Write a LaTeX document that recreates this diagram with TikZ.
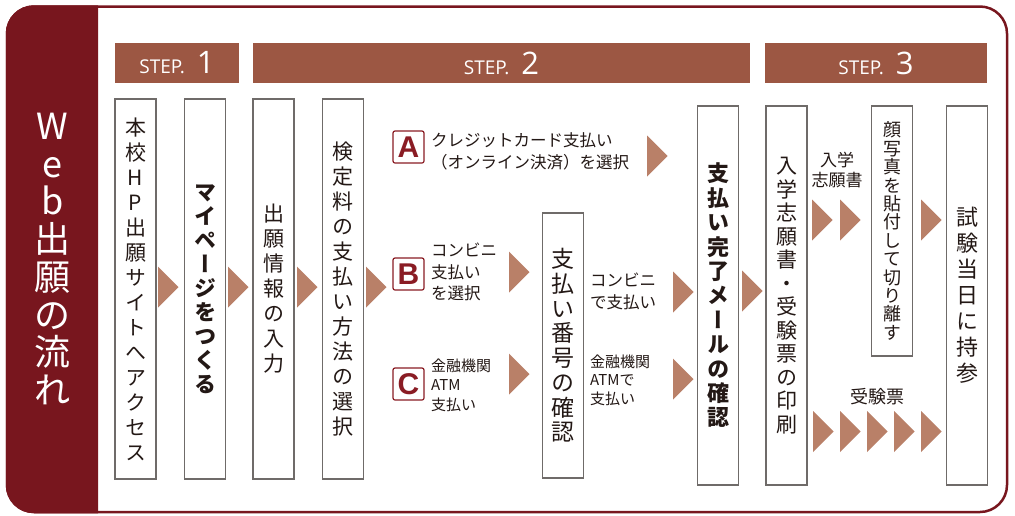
\documentclass[tikz,border=0pt]{standalone}
\usepackage{fontspec}
\setmainfont{Open Sans}
\newfontfamily\jpfont{Noto Sans CJK JP}
\newfontfamily\tatefont[RawFeature=+vert]{Noto Sans CJK JP}
\newfontfamily\markfont{Liberation Sans}

\definecolor{framered}{HTML}{78161E}
\definecolor{stepbrown}{HTML}{9C5743}
\definecolor{arrowtan}{HTML}{B98068}
\definecolor{boxgray}{HTML}{6F6B69}
\definecolor{markred}{HTML}{8A1C24}
\definecolor{inkblack}{HTML}{231815}

\makeatletter
\newcommand\tate[2]{\vbox{\baselineskip=#1pt\lineskiplimit=-\maxdimen\lineskip=0pt
  \@tfor\tate@c:=#2\do{\hbox to 1.3em{\hss\tate@c\hss}}}}
\makeatother

\newcommand\steplabel[1]{{\fontsize{19}{19}\selectfont STEP.}\hspace{12pt}{\fontsize{31}{31}\selectfont #1}}
\newcommand\tri[2]{\fill[arrowtan] (#1,#2-20.5) -- (#1+20.5,#2) -- (#1,#2+20.5) -- cycle;}

\tikzset{
  stepbar/.style={fill=stepbrown, text=white, minimum height=40, inner sep=0},
  flowbox/.style={draw=boxgray, line width=1.1, fill=white, minimum width=41, inner sep=0, text=inkblack},
  markbox/.style={draw=markred, line width=1.2, rounded corners=2, fill=white, minimum width=31, minimum height=32,
    inner sep=0, text=markred, font=\markfont\bfseries\fontsize{30}{30}\selectfont},
  note/.style={inner sep=0, text=inkblack, align=left}
}

\begin{document}
\begin{tikzpicture}[x=1pt,y=-1pt]
  \useasboundingbox (0,0) rectangle (1015,515);

  \draw[framered, line width=2.5, fill=white, rounded corners=27] (7,6.5) rectangle (1007,512);
  \begin{scope}
    \clip (0,0) rectangle (98,515);
    \filldraw[framered, line width=2.5, rounded corners=27] (7,6.5) rectangle (1007,512);
  \end{scope}
  \node[text=white, inner sep=0, font=\jpfont\fontsize{36}{36}\selectfont] (title) at (52.5,259)
    {\tate{37.7}{Web出願の流れ}};

  \node[stepbar, minimum width=124] (s1) at (177,63) {\steplabel{1}};
  \node[stepbar, minimum width=497] (s2) at (501.5,63) {\steplabel{2}};
  \node[stepbar, minimum width=222] (s3) at (876,63) {\steplabel{3}};

  \node[flowbox, minimum height=380, font=\tatefont\fontsize{21}{21}\selectfont] (hp) at (135.5,289)
    {\tate{25}{本校HP出願サイトへアクセス}};
  \node[flowbox, minimum height=380, font=\tatefont\bfseries\fontsize{22}{22}\selectfont] (mypage) at (205,289)
    {\tate{24}{マイページをつくる}};
  \node[flowbox, minimum height=380, font=\tatefont\fontsize{21}{21}\selectfont] (entry) at (273.5,289)
    {\tate{25}{出願情報の入力}};
  \node[flowbox, minimum height=380, font=\tatefont\fontsize{21}{21}\selectfont] (method) at (343,289)
    {\tate{25}{検定料の支払い方法の選択}};
  \node[flowbox, minimum height=265, font=\tatefont\fontsize{23}{23}\selectfont] (number) at (563,345.5)
    {\tate{24.7}{支払い番号の確認}};
  \node[flowbox, minimum height=379, font=\tatefont\bfseries\fontsize{22}{22}\selectfont] (mail) at (718,295.5)
    {\tate{24.4}{支払い完了メールの確認}};
  \node[flowbox, minimum height=379, font=\tatefont\fontsize{21}{21}\selectfont] (print) at (786.5,295.5)
    {\tate{23.5}{入学志願書・受験票の印刷}};
  \node[flowbox, minimum height=250, font=\tatefont\fontsize{18}{18}\selectfont] (photo) at (892,231)
    {\tate{18.4}{顔写真を貼付して切り離す}};
  \node[flowbox, minimum height=379, font=\tatefont\fontsize{22}{22}\selectfont] (exam) at (967,295.5)
    {\tate{26}{試験当日に持参}};

  \node[markbox] (ma) at (408.5,147) {A};
  \node[markbox] (mb) at (408.5,274) {B};
  \node[markbox] (mc) at (408.5,384) {C};
  \node[note, anchor=west, font=\jpfont\fontsize{16.5}{22}\selectfont] (ta) at (431,151)
    {クレジットカード支払い\\（オンライン決済）を選択};
  \node[note, anchor=west, font=\jpfont\fontsize{16.5}{21.5}\selectfont] (tb) at (431,272)
    {コンビニ\\支払い\\を選択};
  \node[note, anchor=west, font=\jpfont\fontsize{15}{19.5}\selectfont] (tc) at (431,385)
    {金融機関\\ATM\\支払い};
  \node[note, anchor=west, font=\jpfont\fontsize{16.5}{22}\selectfont] (tconv) at (590,291)
    {コンビニ\\で支払い};
  \node[note, anchor=west, font=\jpfont\fontsize{15}{18.5}\selectfont] (tbank) at (590,380)
    {金融機関\\ATMで\\支払い};
  \node[note, align=center, font=\jpfont\fontsize{17}{20}\selectfont] (tform) at (837,170)
    {入学\\志願書};
  \node[note, font=\jpfont\fontsize{18}{18}\selectfont] (tticket) at (877,397) {受験票};

  \tri{158}{287}
  \tri{228}{287}
  \tri{297}{287}
  \tri{366}{287}
  \tri{647}{156}
  \tri{509}{272}
  \tri{509}{374}
  \tri{673}{292}
  \tri{673}{379}
  \tri{742}{291}
  \tri{812}{220}
  \tri{840}{220}
  \tri{921}{220}
  \foreach \x in {813,840,867,894,921} {
    \tri{\x}{431.5}
  }
\end{tikzpicture}
\end{document}
